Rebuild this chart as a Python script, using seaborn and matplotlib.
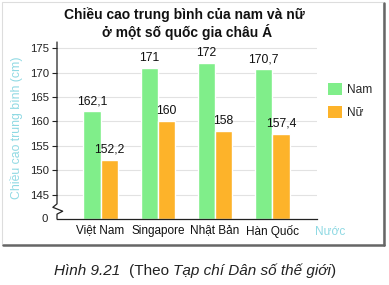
import matplotlib
matplotlib.use("Agg")
import matplotlib.pyplot as plt
import seaborn as sns
import pandas as pd
from matplotlib.patches import Rectangle, Patch
from matplotlib.lines import Line2D

countries = ["Việt Nam", "Singapore", "Nhật Bản", "Hàn Quốc"]
nam = [162.1, 171, 172, 170.7]
nu = [152.2, 160, 158, 157.4]
series = ["Nam", "Nữ"]
ytick_values = [145, 150, 155, 160, 165, 170, 175]

BASE = 140  # broken axis: the "0" baseline sits where 140 would be

sns.set_theme(style="white")
plt.rcParams["font.family"] = ["Liberation Sans", "DejaVu Sans"]

rows = []
for c, a, b in zip(countries, nam, nu):
    rows.append({"country": c, "sex": series[0], "value": a, "shown": a - BASE})
    rows.append({"country": c, "sex": series[1], "value": b, "shown": b - BASE})
df = pd.DataFrame(rows)

W, H = 389, 285
fig = plt.figure(figsize=(W / 100, H / 100), dpi=100)
fig.patch.set_facecolor("white")
ax = fig.add_axes([57 / W, 1 - 219 / H, (317 - 57) / W, (219 - 42) / H])
ax.set_facecolor("white")

green = "#80EE8A"
orange = "#FDB32A"
sns.barplot(data=df, x="country", y="shown", hue="sex", order=countries,
            hue_order=series, palette=[green, orange], width=0.6,
            saturation=1, dodge=True, ax=ax, legend=False)

ax.set_xlim(-0.76, 3.78)
ax.set_ylim(0, 36.3)

# value labels
for cont, vals in zip(ax.containers, [nam, nu]):
    labels = [("%g" % v).replace(".", ",") for v in vals]
    ax.bar_label(cont, labels=labels, padding=3, fontsize=8.8, color="#111111")

# grid
ax.set_yticks([v - BASE for v in ytick_values])
ax.set_yticklabels([str(v) for v in ytick_values])
ax.yaxis.grid(True, color="#e2e2e2", linewidth=0.8)
ax.set_axisbelow(True)
ax.tick_params(axis="y", direction="out", length=3.5, width=0.8, color="#222222",
               labelsize=8.2, labelcolor="#222222", pad=2, left=True)
ax.tick_params(axis="x", length=0, labelsize=8.5, labelcolor="#111111", pad=4)
ax.set_xlabel("")
ax.set_ylabel("")

for s in ["top", "right", "left"]:
    ax.spines[s].set_visible(False)
ax.spines["bottom"].set_color("#222222")
ax.spines["bottom"].set_linewidth(0.9)

# left axis line with break zigzag
yt = ax.get_yaxis_transform()
ax.plot([0, 0, -0.016, 0.022, 0, 0], [36.3, 3.1, 2.4, 1.6, 1.0, 0],
        transform=yt, color="#222222", lw=0.9, clip_on=False,
        solid_joinstyle="round")
ax.text(-0.035, 0, "0", transform=yt, ha="right", va="center",
        fontsize=8.2, color="#222222")

# axis labels
cyan = "#8FD9E3"
fig.text(17 / W, 1 - 128 / H, "Chiều cao trung bình (cm)", rotation=90,
         ha="center", va="center", fontsize=8.8, color=cyan)
fig.text(315 / W, 1 - 232 / H, "Nước", ha="left", va="center",
         fontsize=8.6, color=cyan)

# title
fig.text(184 / W, 1 - 15 / H, "Chiều cao trung bình của nam và nữ",
         ha="center", va="center", fontsize=10, fontweight="bold", color="#111111")
fig.text(187 / W, 1 - 32 / H, "ở một số quốc gia châu Á",
         ha="center", va="center", fontsize=10, fontweight="bold", color="#111111")

# legend
handles = [Patch(facecolor=green, edgecolor="none"), Patch(facecolor=orange, edgecolor="none")]
fig.legend(handles, series, loc="upper left", bbox_to_anchor=(323 / W, 1 - 78 / H),
           frameon=False, fontsize=8.6, handlelength=1.15, handleheight=1.2,
           labelspacing=0.85, handletextpad=0.45, borderaxespad=0)

# frame around chart
fig.add_artist(Rectangle((2 / W, 1 - 245 / H), (383 - 2) / W, (245 - 2) / H,
                         transform=fig.transFigure, fill=False,
                         edgecolor="#dddddd", lw=0.8))
fig.add_artist(Line2D([384 / W, 384 / W], [1 - 245 / H, 1 - 3 / H],
                      transform=fig.transFigure, color="#666666", lw=1.8))
fig.add_artist(Line2D([3 / W, 384 / W], [1 - 245 / H, 1 - 245 / H],
                      transform=fig.transFigure, color="#666666", lw=1.8))

# caption (mixed italic / upright pieces laid side by side)
parts = [("Hình 9.21  ", "italic"), ("(Theo ", "normal"),
         ("Tạp chí Dân số thế giới", "italic"), (")", "normal")]
texts = [fig.text(0, 0, t, style=st, fontsize=11, color="#222222",
                  va="baseline", ha="left") for t, st in parts]
fig.canvas.draw()
r = fig.canvas.get_renderer()
widths = [tx.get_window_extent(r).width for tx in texts]
x = 195 - sum(widths) / 2
for tx, w in zip(texts, widths):
    tx.set_position((x / W, 1 - 275 / H))
    x += w

fig.savefig("out.png", dpi=100, facecolor="white")
